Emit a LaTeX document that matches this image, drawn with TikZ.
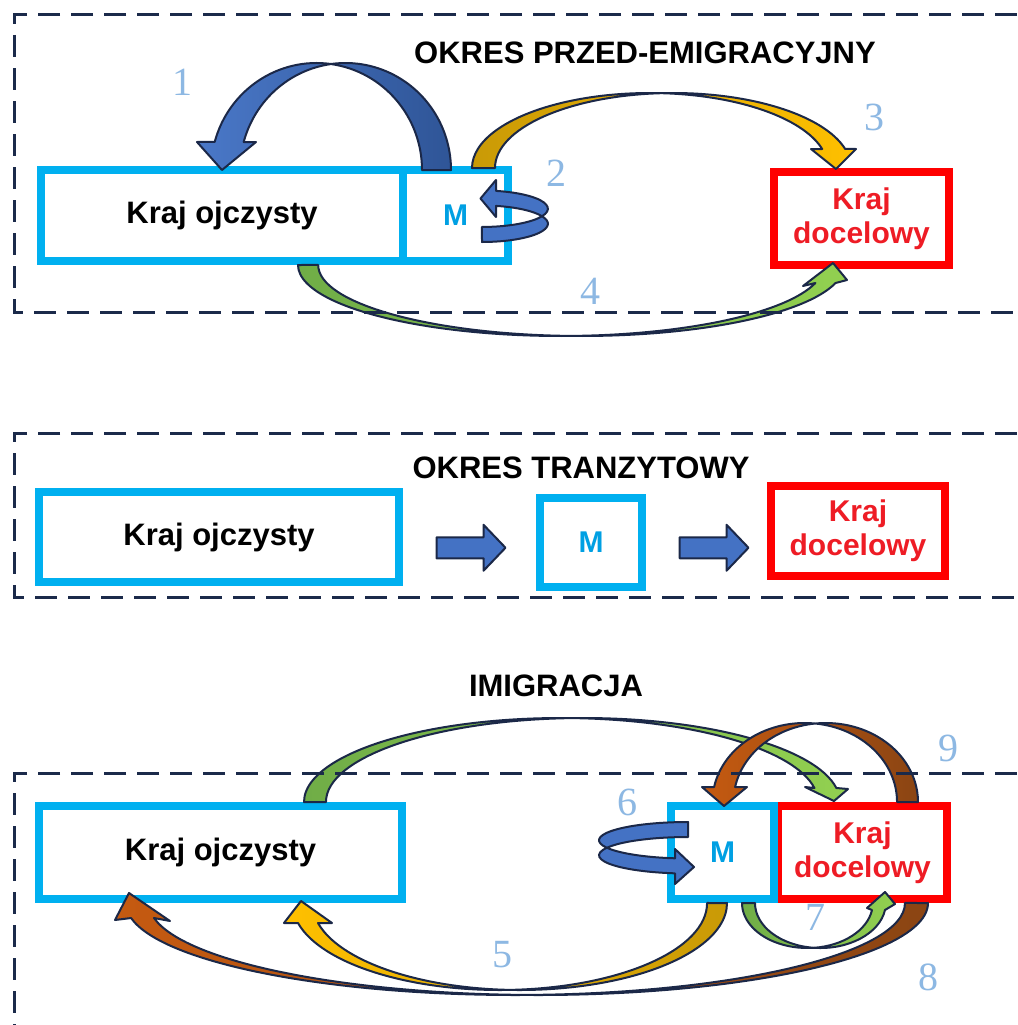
\documentclass[tikz,border=0pt]{standalone}
\usepackage{fontspec}
\setmainfont{Liberation Sans}
\newfontfamily\numfont{Liberation Serif}
\usetikzlibrary{calc}
\definecolor{boxblue}{HTML}{00B0F0}
\definecolor{boxred}{HTML}{FF0000}
\definecolor{txtred}{HTML}{EE1C25}
\definecolor{mblue}{HTML}{00A0E3}
\definecolor{navy}{HTML}{1B2A4A}
\definecolor{outl}{HTML}{1B2848}
\definecolor{numblue}{HTML}{8DB8E3}
\definecolor{blueA}{HTML}{4A78C8}
\definecolor{blueB}{HTML}{2F5597}
\definecolor{blueC}{HTML}{4472C4}
\definecolor{goldA}{HTML}{C99A06}
\definecolor{goldB}{HTML}{FFC000}
\definecolor{greenA}{HTML}{70AD47}
\definecolor{greenB}{HTML}{92D050}
\definecolor{brownA}{HTML}{C55A11}
\definecolor{brownB}{HTML}{8B4513}
\begin{document}
\begin{tikzpicture}[x=1pt,y=-1pt,
  kobox/.style={draw=boxblue, line width=8pt, inner sep=0pt, outer sep=0pt, font=\bfseries\fontsize{31}{36}\selectfont, text=black},
  mbox/.style={draw=boxblue, line width=8pt, inner sep=0pt, outer sep=0pt, font=\bfseries\fontsize{30}{34}\selectfont, text=mblue},
  rbox/.style={draw=boxred, line width=8pt, inner sep=0pt, outer sep=0pt, font=\bfseries\fontsize{30}{34}\selectfont, text=txtred, align=center},
  ttl/.style={font=\bfseries\fontsize{31}{36}\selectfont, inner sep=0pt},
  numlbl/.style={font=\numfont\fontsize{40}{40}\selectfont, text=numblue, inner sep=0pt},
  dashframe/.style={draw=navy, line width=3pt, dash pattern=on 22pt off 11pt},
  carrow/.style={draw=outl, line width=2pt, line join=round},
]
\useasboundingbox[fill=white] (0,0) rectangle (1017,1025);

% ---------- top section ----------
\node[kobox, minimum width=362pt, minimum height=91pt] (ko1) at (222,215.5) {Kraj ojczysty};
\node[mbox, minimum width=105pt, minimum height=91pt] (m1) at (455.5,215.5) {M};
\node[rbox, minimum width=175pt, minimum height=93pt] (kd1) at (861.5,218.5) {Kraj\\docelowy};
\node[ttl] (t1) at (645,53) {OKRES PRZED-EMIGRACYJNY};

% arrow 4 (green, under)
\path[carrow, left color=greenA, right color=greenB]
  ($(ko1.south)+(76,4)$) arc[start angle=180,end angle=87.8,x radius=263,y radius=71]
  arc[start angle=92.2,end angle=14.7,x radius=263,y radius=71]
  -- (847,280) -- ($(kd1.south)+(-28.5,-2)$) -- (803,286) -- (815.4,283)
  arc[start angle=14.7,end angle=87.8,x radius=263,y radius=71]
  arc[start angle=92.2,end angle=180,x radius=263,y radius=71] -- cycle;
% arrow 3 (gold, over)
\path[carrow, left color=goldA, right color=goldB]
  ($(m1.north west)+(69,-2)$) arc[start angle=180,end angle=273.7,x radius=178,y radius=75]
  arc[start angle=266.3,end angle=345.3,x radius=178,y radius=75]
  -- (856,149) -- ($(kd1.north)+(-25.5,-3)$) -- (811,149) -- (822.2,149)
  arc[start angle=345.3,end angle=273.7,x radius=178,y radius=75]
  arc[start angle=266.3,end angle=180,x radius=178,y radius=75] -- cycle;
% arrow 1 (blue, back home)
\path[carrow, left color=blueA, right color=blueB]
  ($(m1.north west)+(48,0)$) arc[start angle=0,end angle=-97.9,x radius=105.5,y radius=107]
  arc[start angle=-82.1,end angle=-164.8,x radius=105.5,y radius=107]
  -- (197,142) -- (ko1.north) -- (256,142) -- (243.7,142)
  arc[start angle=-164.8,end angle=-97.9,x radius=105.5,y radius=107]
  arc[start angle=-82.1,end angle=0,x radius=105.5,y radius=107] -- cycle;
% arrow 2 (blue loop)
\path[carrow, fill=blueC]
  ($(m1.east)+(-26,26.5)$) arc[start angle=90,end angle=-24.3,x radius=65.9,y radius=18.25]
  arc[start angle=24.3,end angle=-77.7,x radius=65.9,y radius=18.25]
  -- (496,180) -- ($(m1.east)+(-27.5,-17)$) -- (496,217) -- (496,205.9)
  arc[start angle=-77.7,end angle=-24.3,x radius=65.9,y radius=18.25]
  arc[start angle=24.3,end angle=90,x radius=65.9,y radius=18.25] -- cycle;

% ---------- middle section ----------
\node[kobox, minimum width=360pt, minimum height=90pt] (ko2) at (219,537) {Kraj ojczysty};
\node[mbox, minimum width=102pt, minimum height=89pt] (m2) at (591,542.5) {M};
\node[rbox, minimum width=174pt, minimum height=90pt] (kd2) at (858,531) {Kraj\\docelowy};
\node[ttl] (t2) at (581,468) {OKRES TRANZYTOWY};
\coordinate (c1) at ($(ko2.east)!0.5!(m2.west)+(1,8)$);
\coordinate (c2) at ($(m2.east)!0.5!(kd2.west)+(7,11)$);
\foreach \c in {c1,c2}{
  \path[carrow, fill=blueC] (\c) ++(-34,-10.5) -- ++(47,0) -- ++(0,-12.5) -- ++(22,23)
    -- ++(-22,23) -- ++(0,-12.5) -- ++(-47,0) -- cycle;
}

% ---------- bottom section ----------
\node[kobox, minimum width=363pt, minimum height=93pt] (ko3) at (220.5,852.5) {Kraj ojczysty};
\node[rbox, minimum width=169pt, minimum height=93pt] (kd3) at (862.5,852.5) {Kraj\\docelowy};
\node[mbox, minimum width=103pt, minimum height=93pt] (m3) at (722.5,852.5) {M};
\node[ttl] (t3) at (556,686) {IMIGRACJA};

% big green arc (home -> destination)
\path[carrow, left color=greenA, right color=greenB]
  ($(ko3.north)+(83.5,-4)$) arc[start angle=180,end angle=272.45,x radius=257,y radius=84]
  arc[start angle=267.55,end angle=350.4,x radius=257,y radius=84]
  -- (848,789) -- ($(kd3.north)+(-28.5,-5)$) -- (805,787) -- (814.4,788)
  arc[start angle=350.4,end angle=272.45,x radius=257,y radius=84]
  arc[start angle=267.55,end angle=180,x radius=257,y radius=84] -- cycle;
% brown arc 9 (destination -> M)
\path[carrow, left color=brownA, right color=brownB]
  ($(kd3.north east)+(-29,-4)$) arc[start angle=0,end angle=-96.53,x radius=92.3,y radius=79]
  arc[start angle=-83.47,end angle=-169.06,x radius=92.3,y radius=79]
  -- (702,787) -- ($(m3.north)+(1.5,0)$) -- (747,787) -- (735.1,787)
  arc[start angle=-169.06,end angle=-96.53,x radius=92.3,y radius=79]
  arc[start angle=-83.47,end angle=0,x radius=92.3,y radius=79] -- cycle;
% blue loop 6
\path[carrow, fill=blueC]
  ($(m3.west)+(17,-30.5)$) arc[start angle=-90,end angle=-204.3,x radius=89,y radius=18.25]
  arc[start angle=-155.7,end angle=-261.6,x radius=89,y radius=18.25]
  -- (675,884) -- ($(m3.west)+(23,14.5)$) -- (675,849) -- (675,858.3)
  arc[start angle=-261.6,end angle=-204.3,x radius=89,y radius=18.25]
  arc[start angle=-155.7,end angle=-90,x radius=89,y radius=18.25] -- cycle;
% gold arrow 5 (M -> home)
\path[carrow, left color=goldB, right color=goldA]
  ($(m3.south)+(4.5,4)$) arc[start angle=0,end angle=92.76,x radius=207.3,y radius=87]
  arc[start angle=87.24,end angle=166.7,x radius=207.3,y radius=87]
  -- (284,923) -- ($(ko3.south)+(80.5,2)$) -- (332,923) -- (318,923)
  arc[start angle=166.7,end angle=92.76,x radius=207.3,y radius=87]
  arc[start angle=87.24,end angle=0,x radius=207.3,y radius=87] -- cycle;
% brown arrow 8 (destination -> home)
\path[carrow, left color=brownA, right color=brownB]
  ($(kd3.south east)+(-19,4)$) arc[start angle=0,end angle=91.69,x radius=389.6,y radius=92]
  arc[start angle=88.31,end angle=170.6,x radius=389.6,y radius=92]
  -- (115,920) -- ($(ko3.south west)+(90,-6)$) -- (170,921) -- (154,918)
  arc[start angle=170.6,end angle=91.69,x radius=389.6,y radius=92]
  arc[start angle=88.31,end angle=0,x radius=389.6,y radius=92] -- cycle;
% green arrow 7 (M -> destination)
\path[carrow, left color=greenA, right color=greenB]
  ($(m3.south)+(19.5,4)$) arc[start angle=180,end angle=84.3,x radius=65.4,y radius=45]
  arc[start angle=95.7,end angle=8.95,x radius=65.4,y radius=45]
  -- (895,904) -- ($(kd3.south)+(22.5,-7)$) -- (867,908) -- (872,910)
  arc[start angle=8.95,end angle=84.3,x radius=65.4,y radius=45]
  arc[start angle=95.7,end angle=180,x radius=65.4,y radius=45] -- cycle;

% ---------- dashed frames ----------
\draw[dashframe] (1017,15) -- (14,15) -- (14,312) -- (1017,312);
\draw[dashframe] (1017,433) -- (14,433) -- (14,597) -- (1017,597);
\draw[dashframe] (1017,773) -- (14,773) -- (14,1025);

% ---------- numbers ----------
\node[numlbl] (n1) at (182,82) {1};
\node[numlbl] (n2) at (556,173) {2};
\node[numlbl] (n3) at (874,117) {3};
\node[numlbl] (n4) at (590,291) {4};
\node[numlbl] (n5) at (502,955) {5};
\node[numlbl] (n6) at (627,802) {6};
\node[numlbl] (n7) at (815,917) {7};
\node[numlbl] (n8) at (928,977) {8};
\node[numlbl] (n9) at (948,748) {9};
\end{tikzpicture}
\end{document}
